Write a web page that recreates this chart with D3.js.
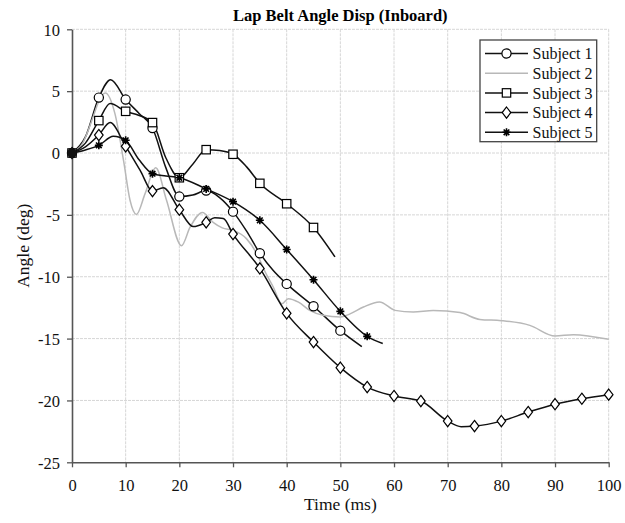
<!DOCTYPE html>
<html><head><meta charset="utf-8">
<script src="https://cdn.jsdelivr.net/npm/d3@7"></script>
<style>
html,body{margin:0;padding:0;background:#fff;}
svg{display:block;}
text{font-family:"Liberation Serif","Times New Roman",serif;}
</style></head>
<body>
<svg id="chart" width="625" height="523"></svg>
<script>
// ---- data ----
const titleText = "Lap Belt Angle Disp (Inboard)";
const xLabel = "Time (ms)";
const yLabel = "Angle (deg)";
const timeTicks = [0,10,20,30,40,50,60,70,80,90,100];
const angleTicks = [-25,-20,-15,-10,-5,0,5,10];
const subjectNames = ["Subject 1","Subject 2","Subject 3","Subject 4","Subject 5"];
const subjectMarkers = ["circle","none","square","diamond","star"];

const s1Time  = [0,2.5,5,7.2,10,12.5,15,17.5,20,22.5,25,27.5,30,32.5,35,37.5,40,45,50,54];
const s1Angle = [0,1.3,4.48,5.93,4.32,3.2,2.02,-1.2,-3.52,-3.4,-3.04,-3.6,-4.74,-6.3,-8.1,-9.5,-10.58,-12.39,-14.36,-15.65];

const s2Time  = [0,2,4,5,6.2,8,9.6,10.8,12,13.6,15.6,17.6,20.4,22,24.3,26.3,28,30,32.5,34.5,36,37.5,39.1,40.3,42.2,44.3,46.8,50,51.8,54.3,57.3,60.2,63.6,67.3,72.3,76,80,85.3,90,93.4,100];
const s2Angle = [0,0.8,3.0,4.2,4.85,3.18,-0.6,-3.8,-4.96,-3.3,-1.2,-3.8,-7.5,-6.0,-4.8,-5.6,-6.05,-6.25,-6.92,-8.19,-9.62,-10.83,-12.18,-11.77,-12.05,-12.72,-13.12,-13.26,-13.0,-12.45,-12.04,-12.72,-12.85,-12.72,-12.9,-13.45,-13.55,-13.93,-14.79,-14.68,-15.06];

const s3Time  = [0,2.5,5,7.1,10,12.4,15,17.5,20,22.5,25,27.5,30,32.5,35,40,45,49];
const s3Angle = [0,0.8,2.62,4.0,3.37,3.05,2.46,-0.4,-2.0,-0.9,0.27,0.2,-0.1,-1.1,-2.45,-4.1,-6.02,-8.4];

const s4Time  = [0,2.5,5,7.1,10,12.7,15,17,20,22.6,25,26.6,28.2,30,35,40,45,50,55,60,65,70,72.5,75,80,85,90,95,100];
const s4Angle = [0,0.5,1.45,2.46,0.54,-1.4,-3.08,-2.8,-4.58,-5.95,-5.6,-5.23,-5.3,-6.55,-9.33,-12.96,-15.28,-17.35,-18.92,-19.64,-20.05,-21.67,-22.12,-22.07,-21.67,-20.94,-20.3,-19.86,-19.53];

const s5Time  = [0,2.5,5,7.7,10,12.5,15,17.5,20,25,30,35,40,45,50,55,57.9];
const s5Angle = [0,0.25,0.62,1.35,1.03,-0.55,-1.67,-1.85,-2.0,-2.9,-3.93,-5.44,-7.8,-10.24,-12.8,-14.82,-15.4];

const seriesTimes  = [s1Time, s2Time, s3Time, s4Time, s5Time];
const seriesAngles = [s1Angle, s2Angle, s3Angle, s4Angle, s5Angle];

// ---- layout ----
const pLeft = 72, pRight = 608.7, pTop = 29.3, pBottom = 462.3;
const svg = d3.select("#chart");

const x = d3.scaleLinear().domain([0,100]).range([pLeft,pRight]);
const y = d3.scaleLinear().domain([-25,10]).range([pBottom,pTop]);

// grid
const grid = svg.append("g");
grid.selectAll("line.v").data(timeTicks.filter(d=>d>0)).join("line")
  .attr("x1",d=>x(d)).attr("x2",d=>x(d)).attr("y1",pTop).attr("y2",pBottom)
  .attr("stroke","#d6d6d6").attr("stroke-width",1).attr("stroke-dasharray","3,1");
grid.selectAll("line.h").data(angleTicks.filter(d=>d>-25)).join("line")
  .attr("x1",pLeft).attr("x2",pRight).attr("y1",d=>y(d)).attr("y2",d=>y(d))
  .attr("stroke","#d6d6d6").attr("stroke-width",1).attr("stroke-dasharray","3,1");

// axes
const axisColor = "#555";
const fmt = d => String(d);
const xAxis = svg.append("g").attr("transform",`translate(0,${pBottom})`)
  .call(d3.axisBottom(x).tickValues(timeTicks).tickFormat(fmt).tickSize(5).tickSizeOuter(0).tickPadding(8));
const yAxis = svg.append("g").attr("transform",`translate(${pLeft},0)`)
  .call(d3.axisLeft(y).tickValues(angleTicks).tickFormat(fmt).tickSize(5).tickSizeOuter(0).tickPadding(7));
[xAxis,yAxis].forEach(a=>{
  a.select(".domain").attr("stroke",axisColor).attr("stroke-width",1.6);
  a.selectAll(".tick line").attr("stroke",axisColor).attr("stroke-width",1.3);
  a.selectAll(".tick text").attr("fill","#111").style("font-size","16.5px")
    .style("font-family",'"Liberation Serif",serif');
});
xAxis.selectAll(".tick text").attr("dy","0.95em");
yAxis.selectAll(".tick text").attr("dy","0.35em");

// titles
svg.append("text").attr("x",(pLeft+pRight)/2).attr("y",21).attr("text-anchor","middle")
  .style("font-weight","bold").style("font-size","16.5px").attr("fill","#000").text(titleText);
svg.append("text").attr("x",(pLeft+pRight)/2).attr("y",510).attr("text-anchor","middle")
  .style("font-size","17.5px").attr("fill","#111").text(xLabel);
svg.append("text").attr("transform",`translate(29,${(pTop+pBottom)/2}) rotate(-90)`)
  .attr("text-anchor","middle").style("font-size","17.5px").attr("fill","#111").text(yLabel);

// marker symbols
const starSymbol = {draw(ctx,size){
  const r = Math.sqrt(size)/2;
  for(let k=0;k<4;k++){
    const a = k*Math.PI/4;
    ctx.moveTo(-r*Math.cos(a),-r*Math.sin(a));
    ctx.lineTo(r*Math.cos(a),r*Math.sin(a));
  }
}};
const diamondSymbol = {draw(ctx,size){
  const w = 4.3, h = 5.6;
  ctx.moveTo(0,-h); ctx.lineTo(w,0); ctx.lineTo(0,h); ctx.lineTo(-w,0); ctx.closePath();
}};
function drawMarker(g, type, cx, cy){
  if(type==="circle"){
    g.append("circle").attr("cx",cx).attr("cy",cy).attr("r",4.6)
      .attr("fill","#fff").attr("stroke","#000").attr("stroke-width",1.2);
  } else if(type==="square"){
    g.append("rect").attr("x",cx-4.2).attr("y",cy-4.2).attr("width",8.4).attr("height",8.4)
      .attr("fill","#fff").attr("stroke","#000").attr("stroke-width",1.2);
  } else if(type==="diamond"){
    g.append("path").attr("d",d3.symbol().type(diamondSymbol)()).attr("transform",`translate(${cx},${cy})`)
      .attr("fill","#fff").attr("stroke","#000").attr("stroke-width",1.2);
  } else if(type==="star"){
    g.append("path").attr("d",d3.symbol().type(starSymbol).size(64)()).attr("transform",`translate(${cx},${cy})`)
      .attr("fill","none").attr("stroke","#000").attr("stroke-width",1.6);
  }
}

// series
const line = d3.line().x(d=>x(d[0])).y(d=>y(d[1])).curve(d3.curveMonotoneX);
const plot = svg.append("g");
seriesTimes.forEach((ts,i)=>{
  const pts = ts.map((t,j)=>[t, seriesAngles[i][j]]);
  const isGray = subjectMarkers[i]==="none";
  plot.append("path").datum(pts).attr("d",line).attr("fill","none")
    .attr("stroke", isGray ? "#b8b8b8" : "#111").attr("stroke-width", 1.5);
});
seriesTimes.forEach((ts,i)=>{
  const type = subjectMarkers[i];
  if(type==="none") return;
  const g = plot.append("g");
  ts.forEach((t,j)=>{
    if(Math.abs(t/5 - Math.round(t/5))<1e-9) drawMarker(g,type,x(t),y(seriesAngles[i][j]));
  });
});
// origin: all marked series start together, drawn as a dark blob in the reference
plot.append("circle").attr("cx",x(s1Time[0])).attr("cy",y(s1Angle[0])).attr("r",4.8).attr("fill","#111");

// legend
const lg = svg.append("g");
lg.append("rect").attr("x",480).attr("y",40).attr("width",116.7).attr("height",101.7)
  .attr("fill","#fff").attr("stroke","#444").attr("stroke-width",1.3);
subjectNames.forEach((name,i)=>{
  const ry = 53.5 + i*19.7;
  const type = subjectMarkers[i];
  lg.append("line").attr("x1",485).attr("x2",528).attr("y1",ry).attr("y2",ry)
    .attr("stroke", type==="none" ? "#b8b8b8" : "#111").attr("stroke-width",1.5);
  drawMarker(lg,type,506.5,ry);
  lg.append("text").attr("x",532.5).attr("y",ry).attr("dy","0.35em")
    .style("font-size","16px").attr("fill","#111").text(name);
});
</script>
</body></html>
